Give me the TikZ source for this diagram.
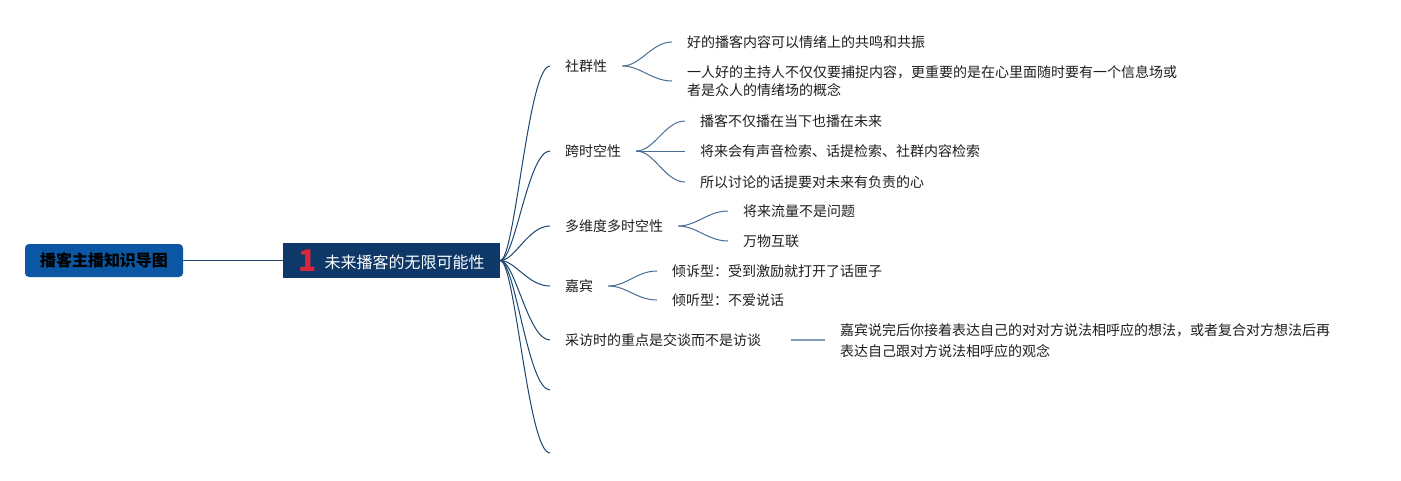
\documentclass[tikz,border=0pt]{standalone}
\usepackage{fontspec}
\setmainfont{Noto Sans CJK SC}
\usepackage{tikz}

\definecolor{rootblue}{HTML}{0B57A4}
\definecolor{topicnavy}{HTML}{0D3868}
\definecolor{numred}{HTML}{D8263A}
\definecolor{mainline}{HTML}{1C4672}
\definecolor{subline}{HTML}{4A6D92}
\definecolor{plainline}{HTML}{8599B0}
\definecolor{inkgray}{HTML}{1E1E1E}

\begin{document}
\begin{tikzpicture}[x=1pt, y=-1pt,
  every node/.style={font=\fontsize{14}{18}\selectfont, text=inkgray},
  rootbox/.style={fill=rootblue, rounded corners=4pt, minimum width=158pt, minimum height=33pt, font=\fontsize{16}{18}\selectfont\bfseries, text=black},
  topicbox/.style={fill=topicnavy, minimum width=217pt, minimum height=35pt, inner ysep=0pt, font=\fontsize{16}{18}\selectfont, text=white},
  branch/.style={anchor=west, inner xsep=15pt, inner ysep=0pt},
  leaf/.style={anchor=west, inner xsep=15pt, inner ysep=0pt, align=left},
  mainedge/.style={draw=mainline, line width=1pt},
  subedge/.style={draw=subline, line width=1pt}]
\useasboundingbox (0,0) rectangle (1401,480);

% Root and central topic
\node[rootbox] (root) at (104,260.5) {播客主播知识导图};
\node[topicbox] (topic) at (391.5,260.5) {\raisebox{-3pt}{\color{numred}\fontsize{30}{30}\selectfont\bfseries 1}\hspace{8pt}未来播客的无限可能性};
\draw[draw=mainline, line width=1.8pt] (root) -- (topic);

% Main branches
\node[branch] (social) at (550,66) {社群性};
\node[branch] (spacetime) at (550,151) {跨时空性};
\node[branch] (multidim) at (550,226) {多维度多时空性};
\node[branch] (guest) at (550,286) {嘉宾};
\node[branch] (interview) at (550,340) {采访时的重点是交谈而不是访谈};
\coordinate (blankA) at (550,390);
\coordinate (blankB) at (550,453);

\draw[mainedge] (topic.east) .. controls +(15,0) and +(-22,0) .. (social.west);
\draw[mainedge] (topic.east) .. controls +(15,0) and +(-22,0) .. (spacetime.west);
\draw[mainedge] (topic.east) .. controls +(15,0) and +(-22,0) .. (multidim.west);
\draw[mainedge] (topic.east) .. controls +(15,0) and +(-22,0) .. (guest.west);
\draw[mainedge] (topic.east) .. controls +(15,0) and +(-22,0) .. (interview.west);
\draw[mainedge] (topic.east) .. controls +(15,0) and +(-22,0) .. (blankA);
\draw[mainedge] (topic.east) .. controls +(15,0) and +(-22,0) .. (blankB);

% Leaves
\node[leaf] (socialA) at (672,42) {好的播客内容可以情绪上的共鸣和共振};
\node[leaf] (socialB) at (672,81) {一人好的主持人不仅仅要捕捉内容，更重要的是在心里面随时要有一个信息场或\\者是众人的情绪场的概念};
\node[leaf] (timeA) at (685,121) {播客不仅播在当下也播在未来};
\node[leaf] (timeB) at (685,151) {将来会有声音检索、话提检索、社群内容检索};
\node[leaf] (timeC) at (685,182) {所以讨论的话提要对未来有负责的心};
\node[leaf] (dimA) at (728,211) {将来流量不是问题};
\node[leaf] (dimB) at (728,241) {万物互联};
\node[leaf] (guestA) at (657,271) {倾诉型：受到激励就打开了话匣子};
\node[leaf] (guestB) at (657,300) {倾听型：不爱说话};
\node[leaf, font=\fontsize{14}{21}\selectfont] (interviewA) at (825,341) {嘉宾说完后你接着表达自己的对对方说法相呼应的想法，或者复合对方想法后再\\表达自己跟对方说法相呼应的观念};

\draw[subedge] (social.east) .. controls +(18,0) and +(-20,0) .. (socialA.west);
\draw[subedge] (social.east) .. controls +(18,0) and +(-20,0) .. (socialB.west);
\draw[subedge] (spacetime.east) .. controls +(18,0) and +(-20,0) .. (timeA.west);
\draw[subedge] (spacetime.east) -- (timeB.west);
\draw[subedge] (spacetime.east) .. controls +(18,0) and +(-20,0) .. (timeC.west);
\draw[subedge] (multidim.east) .. controls +(18,0) and +(-20,0) .. (dimA.west);
\draw[subedge] (multidim.east) .. controls +(18,0) and +(-20,0) .. (dimB.west);
\draw[subedge] (guest.east) .. controls +(18,0) and +(-20,0) .. (guestA.west);
\draw[subedge] (guest.east) .. controls +(18,0) and +(-20,0) .. (guestB.west);
\draw[draw=plainline, line width=1.2pt] ([xshift=15pt]interview.east) -- (interview.east -| interviewA.west);
\end{tikzpicture}
\end{document}
